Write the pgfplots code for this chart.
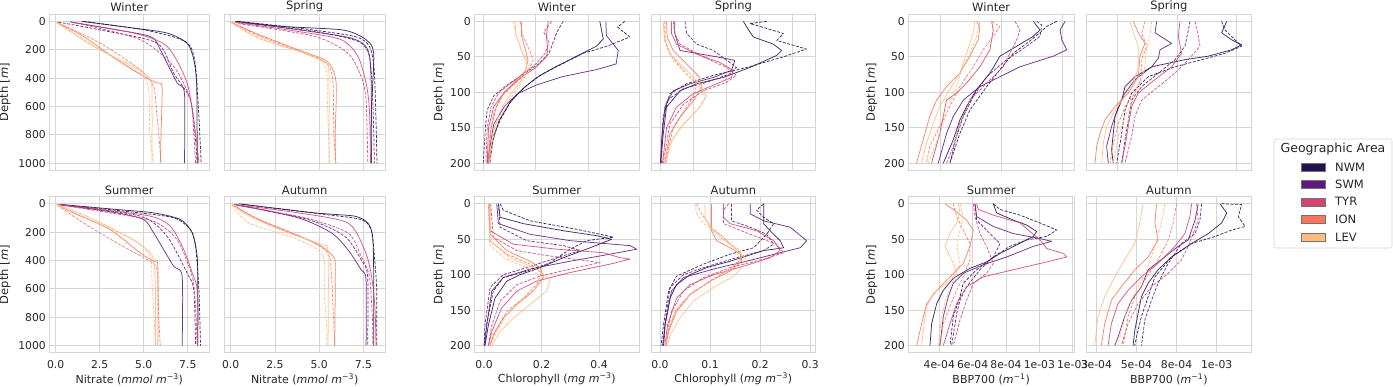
\documentclass[border=0pt]{standalone}
\usepackage{fontspec}
\setmainfont{DejaVu Sans}
\usepackage{pgfplots}
\pgfplotsset{compat=1.18}

\definecolor{cNWM}{RGB}{34,17,80}
\definecolor{cSWM}{RGB}{95,24,127}
\definecolor{cTYR}{RGB}{211,67,110}
\definecolor{cION}{RGB}{248,118,92}
\definecolor{cLEV}{RGB}{254,187,129}
\definecolor{gridc}{RGB}{214,214,214}
\definecolor{txt}{RGB}{38,38,38}

\pgfplotsset{
  base/.style={
    scale only axis, height=156pt, y dir=reverse,
    axis line style={draw=gridc, line width=0.8pt},
    grid=major, grid style={draw=gridc, line width=0.8pt},
    major tick length=0pt, tick style={draw=none},
    tick label style={font=\fontsize{10.8}{12}\selectfont, text=txt},
    xticklabel style={yshift=-4pt},
    /pgf/number format/assume math mode=true,
    /pgf/number format/set thousands separator={},
    title style={font=\fontsize{11.5}{13}\selectfont, text=txt, yshift=-7pt},
    label style={font=\fontsize{11}{13}\selectfont, text=txt},
    ylabel style={font=\fontsize{11.5}{13}\selectfont},
    xlabel style={at={(axis description cs:0.5,-0.169)}, anchor=center},
    every axis plot/.append style={line width=0.75pt, line join=round, opacity=0.88},
  },
  nit/.style={base, width=160pt, xmin=-0.36, xmax=8.72, ymin=-50, ymax=1050,
    xtick={0,2.5,5,7.5}, xticklabels={0.0,2.5,5.0,7.5}, ytick={0,200,400,600,800,1000},
    every axis plot/.append style={smooth, tension=0.45}},
  deep/.style={base, ymin=-10, ymax=210, ytick={0,50,100,150,200}},
  top/.style={xticklabels={}},
  right/.style={yticklabels={}},
  nwm/.style={color=cNWM}, swm/.style={color=cSWM}, tyr/.style={color=cTYR},
  ion/.style={color=cION}, lev/.style={color=cLEV},
  d/.style={dash pattern=on 3pt off 1.5pt},
}

\begin{document}
\begin{tikzpicture}
\useasboundingbox (0,0) rectangle (1393pt,-386pt);

% ---------------- Nitrate ----------------
\begin{axis}[nit, top, at={(49.3pt,-14.3pt)}, anchor=north west, title={Winter},
  ylabel={Depth [\textit{m}]}, ylabel style={at={(axis description cs:-0.277,0.5)}, anchor=center}]
\addplot[nwm] coordinates {(1.48,0)(4.42,47)(6.32,82)(7.46,153)(7.84,270)(8.0,435)(8.03,788)(8.03,1000)};
\addplot[nwm,d] coordinates {(1.58,0)(4.99,59)(6.9,118)(7.65,176)(7.94,318)(8.13,670)(8.26,1000)};
\addplot[swm] coordinates {(0.8,3)(3.0,50)(5.37,106)(5.9,190)(6.32,294)(6.9,435)(7.31,506)(7.31,1000)};
\addplot[swm,d] coordinates {(0.15,5)(2.5,60)(5.75,153)(6.7,365)(7.65,553)(7.94,835)(8.03,1000)};
\addplot[tyr] coordinates {(0.9,7)(4.42,82)(6.32,176)(7.46,435)(7.94,788)(8.13,1000)};
\addplot[tyr,d] coordinates {(1.19,12)(4.8,129)(6.7,318)(7.65,553)(7.84,788)(7.94,1000)};
\addplot[ion] coordinates {(0.06,7)(1.58,106)(3.47,270)(5.0,388)(5.75,435)(6.04,459)(5.98,788)(5.94,1000)};
\addplot[ion,d] coordinates {(0.15,12)(2.53,153)(4.8,341)(5.56,459)(5.75,670)(5.85,788)(5.98,1000)};
\addplot[lev] coordinates {(0.06,7)(2.15,176)(4.42,318)(5.37,412)(5.47,553)(5.47,1000)};
\addplot[lev,d] coordinates {(0.1,12)(2.53,200)(4.8,365)(5.28,482)(5.34,788)(5.56,1000)};
\end{axis}

\begin{axis}[nit, top, right, width=160.7pt, at={(224.3pt,-14.3pt)}, anchor=north west, title={Spring}]
\addplot[nwm] coordinates {(0.34,0)(2.87,35)(6.25,59)(7.37,106)(7.94,165)(8.09,247)(8.03,435)(7.94,670)(7.94,1000)};
\addplot[nwm,d] coordinates {(0.43,0)(3.81,47)(7.0,106)(7.84,176)(8.09,318)(8.18,553)(8.27,1000)};
\addplot[swm] coordinates {(0.25,0)(3.81,59)(6.81,118)(7.75,200)(7.94,435)(7.94,1000)};
\addplot[swm,d] coordinates {(0.34,5)(4.75,71)(7.19,141)(7.84,247)(8.03,553)(8.12,1000)};
\addplot[tyr] coordinates {(0.25,7)(3.81,71)(6.25,129)(7.19,247)(7.65,435)(7.84,623)(7.9,1000)};
\addplot[tyr,d] coordinates {(0.43,16)(4.75,106)(6.62,224)(7.37,388)(7.65,553)(7.75,1000)};
\addplot[ion] coordinates {(0.06,7)(1.37,82)(3.81,200)(5.31,270)(5.78,341)(5.97,459)(5.91,788)(5.91,1000)};
\addplot[ion,d] coordinates {(0.09,12)(1.93,118)(4.37,235)(5.5,306)(5.78,435)(5.83,788)(5.95,1000)};
\addplot[lev] coordinates {(0.02,7)(1.56,118)(4.18,224)(5.31,282)(5.55,365)(5.55,1000)};
\addplot[lev,d] coordinates {(0.06,12)(2.12,141)(4.75,247)(5.4,341)(5.46,553)(5.59,1000)};
\end{axis}

\begin{axis}[nit, at={(49.3pt,-196.7pt)}, anchor=north west, title={Summer},
  xlabel={Nitrate (\textit{mmol m}\textsuperscript{−3})},
  ylabel={Depth [\textit{m}]}, ylabel style={at={(axis description cs:-0.277,0.5)}, anchor=center}]
\addplot[nwm] coordinates {(0.34,5)(3.47,40)(5.56,64)(7.08,111)(7.75,205)(8.03,370)(8.07,607)(8.07,1000)};
\addplot[nwm,d] coordinates {(0.44,9)(4.42,59)(6.7,99)(7.65,182)(7.94,300)(8.13,607)(8.22,1000)};
\addplot[swm] coordinates {(0.25,5)(3.47,64)(5.0,111)(5.56,205)(6.13,323)(6.7,441)(7.18,512)(7.18,1000)};
\addplot[swm,d] coordinates {(0.34,9)(4.8,87)(6.32,229)(7.46,488)(7.84,607)(7.94,1000)};
\addplot[tyr] coordinates {(0.15,5)(2.53,40)(5.37,87)(6.51,158)(7.27,323)(7.75,488)(8.03,607)(8.07,1000)};
\addplot[tyr,d] coordinates {(0.25,9)(3.09,64)(5.56,123)(6.89,253)(7.75,512)(7.94,724)(8.03,1000)};
\addplot[ion] coordinates {(0.06,5)(1.0,64)(3.09,182)(4.8,347)(5.56,406)(5.8,441)(5.8,1000)};
\addplot[ion,d] coordinates {(0.1,9)(1.58,135)(3.47,276)(5.18,394)(5.75,465)(5.85,795)(5.94,1000)};
\addplot[lev] coordinates {(0.06,5)(1.77,87)(4.04,229)(5.18,323)(5.56,394)(5.66,607)(5.66,1000)};
\addplot[lev,d] coordinates {(0.1,9)(1.96,111)(4.42,253)(5.37,370)(5.47,559)(5.6,842)(5.66,1000)};
\end{axis}

\begin{axis}[nit, right, width=160.7pt, at={(224.3pt,-196.7pt)}, anchor=north west, title={Autumn},
  xlabel={Nitrate (\textit{mmol m}\textsuperscript{−3})}]
\addplot[nwm] coordinates {(0.47,0)(4.76,64)(7.0,87)(7.74,135)(8.02,229)(8.08,488)(8.08,1000)};
\addplot[nwm,d] coordinates {(0.65,5)(5.32,75)(7.37,111)(7.93,182)(8.12,370)(8.25,607)(8.25,1000)};
\addplot[swm] coordinates {(0.28,5)(3.82,99)(5.69,205)(6.62,323)(7.37,465)(7.65,536)(7.65,1000)};
\addplot[swm,d] coordinates {(0.37,9)(4.38,111)(6.44,229)(7.37,394)(7.74,512)(7.74,1000)};
\addplot[tyr] coordinates {(0.19,5)(3.82,64)(6.62,135)(7.56,323)(7.93,488)(8.15,724)(8.21,1000)};
\addplot[tyr,d] coordinates {(0.28,9)(4.2,99)(6.62,205)(7.37,370)(7.84,512)(8.02,842)(8.02,1000)};
\addplot[ion] coordinates {(0.09,5)(1.4,99)(3.45,205)(5.13,300)(5.78,370)(5.91,441)(5.88,1000)};
\addplot[ion,d] coordinates {(0.13,9)(1.96,135)(4.38,253)(5.5,347)(5.69,488)(5.78,724)(5.88,1000)};
\addplot[lev] coordinates {(0.06,5)(1.03,87)(3.26,205)(5.13,288)(5.5,347)(5.5,1000)};
\addplot[lev,d] coordinates {(0.09,9)(1.03,135)(3.82,253)(5.13,347)(5.32,465)(5.28,607)(5.41,842)(5.45,1000)};
\end{axis}

% ---------------- Chlorophyll ----------------
\begin{axis}[deep, top, width=165pt, at={(474.3pt,-14.3pt)}, anchor=north west, title={Winter},
  xmin=-0.034, xmax=0.593, xtick={0,0.2,0.4},
  ylabel={Depth [\textit{m}]}, ylabel style={at={(axis description cs:-0.212,0.5)}, anchor=center}]
\addplot[nwm] coordinates {(0.443,0)(0.456,25)(0.43,35)(0.35,50)(0.27,65)(0.2,80)(0.15,95)(0.1,115)(0.06,140)(0.035,170)(0.02,200)};
\addplot[nwm,d] coordinates {(0.538,0)(0.51,8)(0.557,22)(0.47,35)(0.38,45)(0.3,60)(0.22,75)(0.16,92)(0.11,110)(0.07,135)(0.04,160)(0.025,200)};
\addplot[swm] coordinates {(0.466,0)(0.468,20)(0.513,41)(0.505,60)(0.43,68)(0.3,78)(0.2,90)(0.13,102)(0.08,120)(0.04,145)(0.015,200)};
\addplot[swm,d] coordinates {(0.304,0)(0.28,15)(0.265,30)(0.25,45)(0.21,60)(0.15,75)(0.09,90)(0.04,105)(0.015,125)(0.008,150)(0.0,200)};
\addplot[tyr] coordinates {(0.247,0)(0.24,20)(0.245,40)(0.24,50)(0.2,65)(0.14,80)(0.08,100)(0.04,120)(0.02,150)(0.015,200)};
\addplot[tyr,d] coordinates {(0.26,0)(0.23,15)(0.25,30)(0.235,45)(0.2,60)(0.13,80)(0.06,100)(0.03,120)(0.015,150)(0.01,200)};
\addplot[ion] coordinates {(0.146,0)(0.145,20)(0.16,40)(0.17,55)(0.16,70)(0.12,85)(0.08,100)(0.05,120)(0.03,150)(0.018,200)};
\addplot[ion,d] coordinates {(0.14,0)(0.15,20)(0.175,40)(0.19,55)(0.17,70)(0.12,88)(0.07,105)(0.04,130)(0.025,160)(0.02,200)};
\addplot[lev] coordinates {(0.12,0)(0.125,20)(0.145,40)(0.165,60)(0.16,75)(0.13,90)(0.09,110)(0.06,130)(0.035,160)(0.022,200)};
\addplot[lev,d] coordinates {(0.115,0)(0.125,20)(0.15,45)(0.175,60)(0.165,75)(0.13,95)(0.09,115)(0.055,140)(0.035,170)(0.025,200)};
\end{axis}

\begin{axis}[deep, top, right, width=164.7pt, at={(651pt,-14.3pt)}, anchor=north west, title={Spring},
  xmin=-0.027, xmax=0.472, xtick={0,0.1,0.2,0.3,0.4}]
\addplot[nwm] coordinates {(0.253,0)(0.263,8)(0.283,22)(0.343,32)(0.369,41)(0.354,48)(0.273,65)(0.192,79)(0.111,88)(0.061,98)(0.02,121)(0.01,159)(0.002,200)};
\addplot[nwm,d] coordinates {(0.323,0)(0.273,3)(0.374,17)(0.354,27)(0.444,39)(0.374,50)(0.263,65)(0.162,76)(0.081,88)(0.03,102)(0.01,135)(0.002,200)};
\addplot[swm] coordinates {(0.045,0)(0.045,17)(0.061,41)(0.172,50)(0.227,55)(0.217,69)(0.162,79)(0.091,88)(0.04,98)(0.015,121)(0.005,168)(0.002,200)};
\addplot[swm,d] coordinates {(0.076,0)(0.081,17)(0.111,32)(0.162,41)(0.212,58)(0.232,65)(0.212,74)(0.141,86)(0.071,95)(0.02,112)(0.008,150)(0.005,200)};
\addplot[tyr] coordinates {(0.035,0)(0.035,17)(0.05,32)(0.111,46)(0.182,58)(0.222,69)(0.217,79)(0.172,88)(0.101,102)(0.05,121)(0.02,150)(0.008,200)};
\addplot[tyr,d] coordinates {(0.04,0)(0.045,17)(0.061,32)(0.131,50)(0.202,65)(0.232,76)(0.202,86)(0.131,98)(0.071,117)(0.03,145)(0.01,200)};
\addplot[ion] coordinates {(0.02,0)(0.022,22)(0.04,41)(0.081,60)(0.121,79)(0.126,93)(0.101,112)(0.061,135)(0.03,159)(0.015,200)};
\addplot[ion,d] coordinates {(0.015,0)(0.015,27)(0.03,46)(0.071,69)(0.111,88)(0.106,102)(0.081,121)(0.04,150)(0.015,200)};
\addplot[lev] coordinates {(0.01,0)(0.013,22)(0.03,46)(0.081,69)(0.126,91)(0.141,105)(0.121,121)(0.071,145)(0.035,168)(0.018,200)};
\addplot[lev,d] coordinates {(0.015,0)(0.017,27)(0.04,55)(0.091,79)(0.131,98)(0.136,109)(0.111,126)(0.061,150)(0.025,178)(0.015,200)};
\end{axis}

\begin{axis}[deep, width=165pt, at={(474.3pt,-196.7pt)}, anchor=north west, title={Summer},
  xmin=-0.034, xmax=0.54, xtick={0,0.2,0.4}, xticklabels={0.0,0.2,0.4},
  xlabel={Chlorophyll (\textit{mg m}\textsuperscript{−3})},
  ylabel={Depth [\textit{m}]}, ylabel style={at={(axis description cs:-0.212,0.5)}, anchor=center}]
\addplot[nwm] coordinates {(0.05,0)(0.056,19)(0.137,28)(0.276,38)(0.392,45)(0.444,50)(0.369,62)(0.276,76)(0.195,90)(0.125,100)(0.079,109)(0.038,133)(0.015,171)(0.003,200)};
\addplot[nwm,d] coordinates {(0.056,0)(0.067,9)(0.16,24)(0.323,36)(0.45,47)(0.357,52)(0.299,64)(0.23,83)(0.148,95)(0.067,104)(0.032,123)(0.009,171)(0.0,200)};
\addplot[swm] coordinates {(0.044,0)(0.05,28)(0.16,43)(0.299,52)(0.508,59)(0.531,64)(0.439,71)(0.299,81)(0.16,92)(0.067,104)(0.027,123)(0.009,171)(0.003,200)};
\addplot[swm,d] coordinates {(0.05,0)(0.056,33)(0.148,52)(0.276,59)(0.334,66)(0.253,76)(0.148,90)(0.067,100)(0.021,118)(0.003,171)(0.0,200)};
\addplot[tyr] coordinates {(0.015,0)(0.021,38)(0.102,57)(0.253,64)(0.415,69)(0.473,76)(0.508,78)(0.439,85)(0.299,97)(0.183,109)(0.114,123)(0.061,147)(0.027,180)(0.015,200)};
\addplot[tyr,d] coordinates {(0.023,0)(0.032,47)(0.114,66)(0.218,73)(0.369,81)(0.404,83)(0.299,92)(0.195,102)(0.114,114)(0.056,137)(0.027,171)(0.015,200)};
\addplot[ion] coordinates {(0.021,0)(0.021,43)(0.079,66)(0.16,81)(0.195,90)(0.206,104)(0.172,123)(0.114,142)(0.067,161)(0.032,185)(0.021,200)};
\addplot[ion,d] coordinates {(0.019,0)(0.021,52)(0.079,71)(0.16,85)(0.2,97)(0.183,114)(0.137,133)(0.079,152)(0.038,180)(0.021,200)};
\addplot[lev] coordinates {(0.019,0)(0.021,52)(0.09,76)(0.183,92)(0.23,107)(0.218,123)(0.16,142)(0.102,161)(0.056,180)(0.027,200)};
\addplot[lev,d] coordinates {(0.015,0)(0.019,57)(0.067,76)(0.148,90)(0.195,102)(0.183,118)(0.137,133)(0.079,156)(0.044,180)(0.021,200)};
\end{axis}

\begin{axis}[deep, right, width=164.7pt, at={(651pt,-196.7pt)}, anchor=north west, title={Autumn},
  xmin=-0.018, xmax=0.311, xtick={0,0.1,0.2,0.3}, xticklabels={0.0,0.1,0.2,0.3},
  xlabel={Chlorophyll (\textit{mg m}\textsuperscript{−3})}]
\addplot[nwm] coordinates {(0.207,0)(0.207,28)(0.22,38)(0.24,52)(0.247,62)(0.207,66)(0.14,81)(0.093,90)(0.06,100)(0.033,114)(0.02,133)(0.01,171)(0.007,200)};
\addplot[nwm,d] coordinates {(0.207,0)(0.193,9)(0.207,19)(0.227,28)(0.213,43)(0.187,62)(0.14,71)(0.087,85)(0.033,102)(0.017,123)(0.007,171)(0.002,200)};
\addplot[swm] coordinates {(0.18,0)(0.18,14)(0.207,24)(0.26,33)(0.293,52)(0.28,62)(0.24,69)(0.173,81)(0.107,92)(0.047,104)(0.023,123)(0.01,171)(0.005,200)};
\addplot[swm,d] coordinates {(0.143,0)(0.143,24)(0.18,33)(0.213,43)(0.227,57)(0.207,66)(0.153,76)(0.087,90)(0.047,100)(0.02,118)(0.01,171)(0.007,200)};
\addplot[tyr] coordinates {(0.127,0)(0.127,19)(0.14,28)(0.193,38)(0.227,52)(0.24,66)(0.22,76)(0.167,88)(0.107,100)(0.06,114)(0.033,133)(0.015,171)(0.01,200)};
\addplot[tyr,d] coordinates {(0.137,0)(0.127,9)(0.127,28)(0.18,43)(0.233,57)(0.247,69)(0.207,78)(0.14,90)(0.087,104)(0.047,123)(0.023,152)(0.01,200)};
\addplot[ion] coordinates {(0.103,0)(0.103,38)(0.113,52)(0.14,62)(0.16,71)(0.163,81)(0.14,95)(0.1,109)(0.06,128)(0.033,152)(0.017,180)(0.012,200)};
\addplot[ion,d] coordinates {(0.073,0)(0.083,14)(0.093,24)(0.1,33)(0.12,43)(0.14,57)(0.16,69)(0.163,78)(0.14,92)(0.1,109)(0.06,128)(0.03,152)(0.013,188)(0.01,200)};
\addplot[lev] coordinates {(0.09,0)(0.09,19)(0.1,33)(0.12,47)(0.153,64)(0.17,76)(0.17,85)(0.147,102)(0.107,118)(0.067,137)(0.04,161)(0.02,185)(0.015,200)};
\addplot[lev,d] coordinates {(0.07,0)(0.073,14)(0.087,28)(0.113,40)(0.14,55)(0.16,66)(0.163,76)(0.143,90)(0.107,107)(0.067,123)(0.033,147)(0.015,180)(0.01,200)};
\end{axis}

% ---------------- BBP700 (x in units of 1e-4) ----------------
\begin{axis}[deep, top, width=165.7pt, at={(908.3pt,-14.3pt)}, anchor=north west, title={Winter},
  xmin=2.39, xmax=15.95, xtick={5,10,15},
  ylabel={Depth [\textit{m}]}, ylabel style={at={(axis description cs:-0.221,0.5)}, anchor=center}]
\addplot[nwm] coordinates {(12.62,0)(13.17,12)(12.62,21)(11.26,35)(9.89,49)(9.07,73)(7.98,96)(7.16,120)(6.61,139)(6.07,167)(5.25,200)};
\addplot[nwm,d] coordinates {(14.54,0)(13.72,7)(13.17,16)(12.08,31)(10.98,45)(9.89,68)(8.8,92)(7.43,125)(6.61,158)(5.79,200)};
\addplot[swm] coordinates {(15.22,0)(14.81,12)(14.95,26)(15.36,40)(14.26,49)(11.53,64)(9.89,78)(8.25,92)(6.89,111)(6.07,134)(5.52,158)(4.84,200)};
\addplot[swm,d] coordinates {(12.9,0)(13.31,5)(13.17,21)(12.08,35)(10.44,54)(8.8,78)(7.7,106)(6.89,134)(6.34,162)(5.79,200)};
\addplot[tyr] coordinates {(9.21,0)(9.34,12)(9.07,40)(8.25,64)(7.16,87)(6.34,101)(5.52,111)(5.25,134)(4.97,158)(4.29,200)};
\addplot[tyr,d] coordinates {(11.12,0)(11.53,12)(11.26,26)(10.85,40)(10.16,64)(8.8,87)(7.43,111)(6.61,144)(6.07,176)(5.52,200)};
\addplot[ion] coordinates {(7.98,0)(8.25,7)(8.11,26)(7.43,49)(6.61,73)(5.52,92)(4.7,111)(4.15,134)(3.6,167)(3.06,200)};
\addplot[ion,d] coordinates {(9.21,0)(9.89,7)(9.34,21)(8.52,40)(7.7,64)(6.61,92)(5.79,120)(4.97,148)(4.15,176)(3.88,200)};
\addplot[lev] coordinates {(7.84,0)(7.7,16)(7.16,45)(6.61,73)(5.79,96)(4.97,120)(4.43,144)(3.88,172)(3.47,200)};
\addplot[lev,d] coordinates {(8.25,0)(7.98,21)(7.43,45)(6.75,68)(6.34,92)(5.79,115)(5.25,144)(4.56,176)(4.02,200)};
\end{axis}

\begin{axis}[deep, top, right, width=164.3pt, at={(1086.7pt,-14.3pt)}, anchor=north west, title={Spring},
  xmin=2.39, xmax=16.24, xtick={5,10,15}]
\addplot[nwm] coordinates {(14.19,0)(13.76,16)(14.61,26)(15.45,33)(14.61,40)(12.64,49)(10.67,54)(7.87,64)(6.46,78)(5.62,92)(5.34,111)(4.78,134)(4.63,158)(4.49,181)(4.63,200)};
\addplot[nwm,d] coordinates {(13.76,0)(14.04,12)(14.89,26)(15.45,35)(14.04,45)(12.08,54)(9.83,64)(7.58,78)(6.18,101)(5.62,125)(5.34,158)(5.06,186)(4.92,200)};
\addplot[swm] coordinates {(8.29,0)(8.15,16)(9.55,31)(8.57,40)(8.43,52)(7.87,64)(6.46,82)(5.62,101)(5.06,120)(4.49,148)(4.07,176)(4.21,200)};
\addplot[swm,d] coordinates {(11.1,0)(10.96,12)(10.67,35)(9.83,54)(8.43,73)(7.02,92)(6.18,111)(5.9,139)(5.62,167)(5.34,200)};
\addplot[tyr] coordinates {(10.25,0)(10.11,21)(10.39,45)(9.55,64)(8.15,82)(6.74,101)(6.18,120)(5.9,148)(5.62,176)(5.34,200)};
\addplot[tyr,d] coordinates {(11.52,0)(11.8,21)(11.94,35)(10.96,54)(9.83,73)(8.43,92)(7.02,111)(6.46,134)(6.18,162)(5.62,200)};
\addplot[ion] coordinates {(6.32,0)(6.74,16)(7.3,31)(6.88,49)(6.74,78)(5.9,101)(4.78,120)(3.93,139)(3.51,158)(3.23,176)(3.09,200)};
\addplot[ion,d] coordinates {(7.3,0)(7.02,16)(7.44,35)(7.02,54)(7.02,78)(6.46,101)(5.62,120)(5.06,144)(4.63,172)(4.35,200)};
\addplot[lev] coordinates {(6.04,0)(6.32,16)(6.74,35)(6.74,64)(6.32,87)(5.62,106)(4.78,125)(4.07,148)(3.79,172)(3.65,200)};
\addplot[lev,d] coordinates {(7.87,0)(7.72,21)(7.44,40)(7.3,64)(6.88,87)(6.32,111)(5.62,134)(5.06,162)(4.63,200)};
\end{axis}

\begin{axis}[deep, width=165.7pt, at={(908.3pt,-196.7pt)}, anchor=north west, title={Summer},
  xmin=2.14, xmax=12.08, xtick={4,6,8,10,12}, xticklabels={4e-04,6e-04,8e-04,1e-03,1e-03},
  xlabel={BBP700 (\textit{m}\textsuperscript{−1})},
  ylabel={Depth [\textit{m}]}, ylabel style={at={(axis description cs:-0.221,0.5)}, anchor=center}]
\addplot[nwm] coordinates {(7.24,0)(7.44,13)(8.44,23)(9.24,30)(9.84,39)(9.64,46)(8.64,58)(7.64,70)(6.84,82)(5.84,91)(4.84,105)(4.24,122)(3.84,141)(3.54,169)(3.44,200)};
\addplot[nwm,d] coordinates {(7.24,0)(7.64,8)(8.84,16)(10.04,27)(11.04,37)(10.44,46)(9.24,51)(8.24,60)(7.24,75)(6.24,93)(5.44,112)(5.24,131)(4.84,159)(4.64,200)};
\addplot[swm] coordinates {(6.14,0)(6.24,18)(7.24,32)(8.44,42)(10.04,49)(10.74,53)(9.64,60)(8.04,75)(6.64,86)(5.44,98)(4.84,112)(4.54,131)(4.24,159)(4.04,200)};
\addplot[swm,d] coordinates {(6.14,0)(6.24,23)(7.04,42)(7.64,56)(7.24,75)(6.44,93)(5.64,117)(5.24,136)(5.04,155)(4.74,200)};
\addplot[tyr] coordinates {(6.24,0)(6.34,8)(7.24,16)(8.84,27)(10.04,51)(10.44,63)(11.44,70)(11.64,75)(10.44,82)(8.44,93)(6.64,103)(5.64,117)(5.04,141)(4.64,169)(4.24,200)};
\addplot[tyr,d] coordinates {(6.04,0)(6.14,18)(6.44,42)(6.84,60)(7.24,84)(6.84,98)(6.04,112)(5.64,136)(5.24,164)(4.84,200)};
\addplot[ion] coordinates {(4.34,0)(4.84,8)(5.64,23)(6.04,37)(5.84,60)(5.44,84)(4.64,103)(3.84,122)(3.24,141)(2.94,169)(2.64,200)};
\addplot[ion,d] coordinates {(4.84,0)(5.04,18)(5.44,37)(5.84,56)(5.84,79)(5.44,103)(5.04,122)(4.64,145)(4.24,169)(4.04,200)};
\addplot[lev] coordinates {(5.14,0)(5.24,13)(5.04,27)(4.64,42)(4.34,60)(4.84,84)(5.04,98)(4.44,112)(3.64,126)(3.24,145)(3.04,178)(2.94,200)};
\addplot[lev,d] coordinates {(5.24,0)(5.44,18)(5.24,37)(5.04,60)(5.24,84)(4.84,108)(4.44,131)(4.14,159)(3.94,200)};
\end{axis}

\begin{axis}[deep, right, width=164.3pt, at={(1086.7pt,-196.7pt)}, anchor=north west, title={Autumn},
  xmin=1.9, xmax=12.14, xtick={2.5,5,7.5,10}, xticklabels={3e-04,5e-04,8e-04,1e-03},
  xlabel={BBP700 (\textit{m}\textsuperscript{−1})}]
\addplot[nwm] coordinates {(10.21,0)(10.63,13)(10.31,27)(9.48,42)(8.44,56)(7.19,75)(6.35,93)(5.73,112)(5.31,131)(5.1,155)(4.9,178)(4.79,200)};
\addplot[nwm,d] coordinates {(10.31,0)(11.56,1)(11.35,18)(11.77,32)(10.94,37)(9.9,46)(8.44,56)(7.19,75)(6.15,103)(5.73,131)(5.31,159)(5.0,188)(4.9,200)};
\addplot[swm] coordinates {(8.85,0)(8.65,23)(8.23,51)(7.6,60)(6.77,75)(5.73,93)(5.31,117)(4.69,136)(4.27,159)(3.85,188)(3.65,200)};
\addplot[swm,d] coordinates {(9.06,0)(8.96,23)(8.65,42)(7.81,56)(6.98,84)(6.35,112)(5.94,136)(5.52,164)(5.31,200)};
\addplot[tyr] coordinates {(8.44,0)(8.33,18)(8.02,42)(7.4,60)(6.35,84)(5.31,103)(4.48,122)(3.85,141)(3.44,169)(3.23,200)};
\addplot[tyr,d] coordinates {(8.75,0)(8.85,23)(8.23,60)(7.81,79)(6.98,98)(5.94,117)(5.1,141)(4.48,169)(4.06,200)};
\addplot[ion] coordinates {(6.25,0)(6.15,27)(6.35,51)(5.73,75)(4.9,93)(4.06,117)(3.44,136)(3.02,169)(2.81,200)};
\addplot[ion,d] coordinates {(7.5,0)(7.29,27)(6.98,51)(6.35,79)(5.52,108)(4.9,131)(4.48,159)(4.27,188)(4.17,200)};
\addplot[lev] coordinates {(5.42,0)(5.21,27)(4.9,56)(4.27,79)(3.65,103)(3.02,131)(2.6,159)(2.4,200)};
\addplot[lev,d] coordinates {(6.77,0)(6.56,27)(6.15,60)(5.73,89)(5.1,117)(4.48,145)(4.06,178)(3.85,200)};
\end{axis}

% ---------------- Legend ----------------
\draw[draw=gridc, line width=0.6pt, rounded corners=2pt, fill=white] (1274pt,-139pt) rectangle (1392pt,-248pt);
\node[font=\fontsize{12.5}{14}\selectfont, text=txt] at (1333pt,-149.5pt) {Geographic Area};
\foreach \c/\n/\y in {cNWM/NWM/167.3, cSWM/SWM/184.5, cTYR/TYR/201.7, cION/ION/219.3, cLEV/LEV/237} {
  \draw[fill=\c, draw=black!55, line width=0.4pt] (1301pt,{-\y*1pt+4pt}) rectangle (1325pt,{-\y*1pt-4pt});
  \node[anchor=west, font=\fontsize{11.5}{13}\selectfont, text=txt, inner sep=0pt] at (1335pt,{-\y*1pt}) {\n};
}
\end{tikzpicture}
\end{document}
